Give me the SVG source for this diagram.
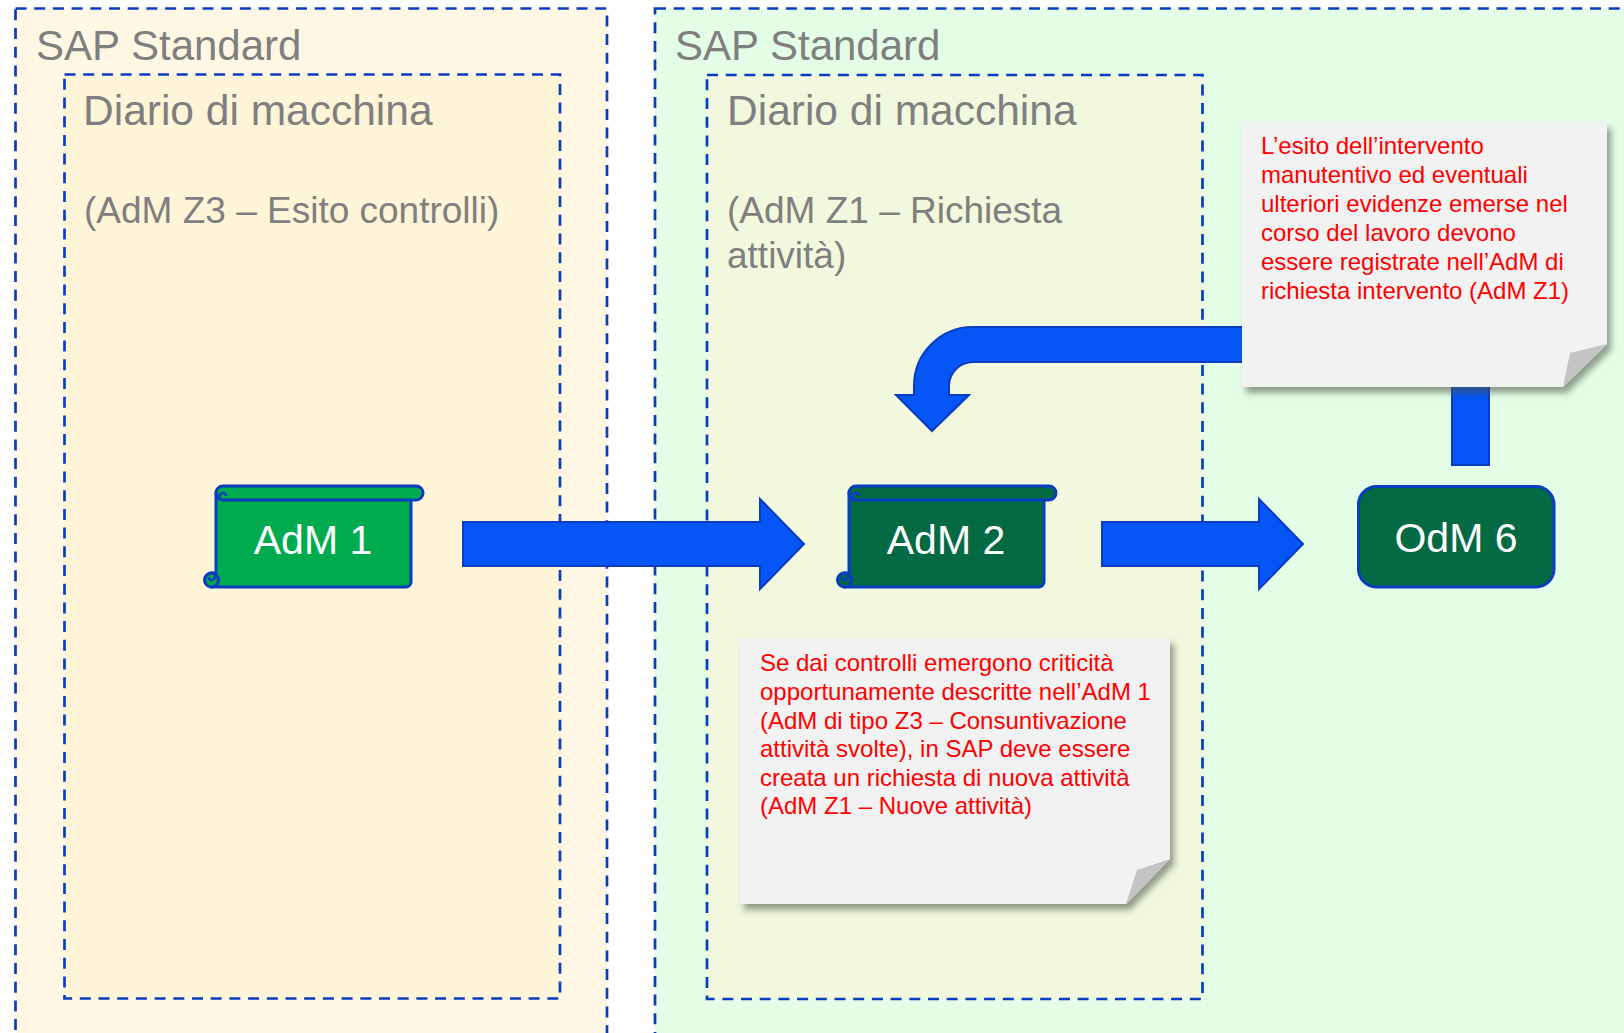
<svg xmlns="http://www.w3.org/2000/svg" width="1624" height="1033" viewBox="0 0 1624 1033">
<style>
.cont{stroke:#0a3cbf;stroke-width:2.7;stroke-dasharray:11 7.7}
.h1{font-family:"Liberation Sans",Arial,sans-serif;font-size:42px;fill:#7f7f7f}
.h1b{font-family:"Liberation Sans",Arial,sans-serif;font-size:42.5px;fill:#7f7f7f}
.h2{font-family:"Liberation Sans",Arial,sans-serif;font-size:37px;fill:#7f7f7f}
.arrow{fill:#0555f7;stroke:#0a3cbf;stroke-width:2}
.node{stroke:#0a3cbf;stroke-width:3}
.lbl{font-family:"Liberation Sans",Arial,sans-serif;font-size:41px;fill:#ffffff;text-anchor:middle}
.note{fill:#f2f2f2}
.fold{fill:#c4c4c4}
.nt{font-family:"Liberation Sans",Arial,sans-serif;font-size:24px;fill:#ff0000}
</style>
<defs>
<filter id="sh" x="-10%" y="-10%" width="125%" height="130%">
<feDropShadow dx="4" dy="6" stdDeviation="3" flood-color="#4a5040" flood-opacity="0.55"/>
</filter>
</defs>
<rect width="1624" height="1033" fill="#ffffff"/>
<g id="container-left">
<rect class="cont" x="15.5" y="8.5" width="591.5" height="1060" fill="#fff7e3"/>
<text class="h1" x="36" y="60">SAP Standard</text>
<rect class="cont" x="64.5" y="74.5" width="495.5" height="924" fill="#fef4d8"/>
<text class="h1b" x="83" y="125">Diario di macchina</text>
<text class="h2" x="84" y="223">(AdM Z3 – Esito controlli)</text>
</g>
<g id="container-right">
<rect class="cont" x="655" y="8.5" width="1000" height="1060" fill="#e3fde7"/>
<text class="h1" x="675" y="60">SAP Standard</text>
<rect class="cont" x="707" y="75" width="495.5" height="924" fill="#f1f8dd"/>
<text class="h1b" x="727" y="125">Diario di macchina</text>
<text class="h2" x="727" y="223">(AdM Z1 – Richiesta</text>
<text class="h2" x="727" y="268">attività)</text>
</g>
<g id="connectors">
<polygon class="arrow" points="463,522 760,522 760,499 804,544 760,589 760,566 463,566"/>
<polygon class="arrow" points="1102,522 1259,522 1259,499 1303,544 1259,589 1259,566 1102,566"/>
<path class="arrow" d="M1250 327 L973 327 A59 59 0 0 0 914 386 L914 395 L896 395 L932 431 L969 395 L949 395 L949 386 A24 24 0 0 1 973 362 L1250 362 Z"/>
<rect class="arrow" x="1452" y="370" width="37" height="95"/>
</g>
<g id="adm1" transform="translate(216,486)">
<path class="node" fill="#00ab4e" d="M0 7 L195 7 L195 96 A5 5 0 0 1 190 101 L-4.5 101 L-4.5 87 L0 87 Z"/>
<path class="node" fill="#00ab4e" d="M7 0 L200 0 A7 7 0 0 1 200 14 L7 14 A7 7 0 0 1 7 0 Z"/>
<path fill="none" stroke="#0a3cbf" stroke-width="2.5" d="M7 14 A3.5 3.5 0 0 1 7 7 A3 3 0 0 1 10 10"/>
<circle class="node" fill="#00ab4e" cx="-4.5" cy="94" r="7"/>
<path fill="none" stroke="#0a3cbf" stroke-width="2.5" d="M-4.5 87 A3.5 3.5 0 0 1 -4.5 94 A3 3 0 0 1 -7.5 91"/>
<text class="lbl" x="97" y="68">AdM 1</text>
</g>
<g id="adm2" transform="translate(849,486)">
<path class="node" fill="#046a43" d="M0 7 L195 7 L195 96 A5 5 0 0 1 190 101 L-4.5 101 L-4.5 87 L0 87 Z"/>
<path class="node" fill="#046a43" d="M7 0 L200 0 A7 7 0 0 1 200 14 L7 14 A7 7 0 0 1 7 0 Z"/>
<path fill="none" stroke="#0a3cbf" stroke-width="2.5" d="M7 14 A3.5 3.5 0 0 1 7 7 A3 3 0 0 1 10 10"/>
<circle class="node" fill="#046a43" cx="-4.5" cy="94" r="7"/>
<path fill="none" stroke="#0a3cbf" stroke-width="2.5" d="M-4.5 87 A3.5 3.5 0 0 1 -4.5 94 A3 3 0 0 1 -7.5 91"/>
<text class="lbl" x="97" y="68">AdM 2</text>
</g>
<g id="odm6">
<rect class="node" x="1358.5" y="486.5" width="195.5" height="100.5" rx="18" fill="#046a43"/>
<text class="lbl" x="1456" y="552" font-size="42">OdM 6</text>
</g>
<g id="note1">
<path class="note" filter="url(#sh)" d="M1242 122 L1607 122 L1607 344 L1563 387 L1242 387 Z"/>
<path class="fold" d="M1563 387 L1570 353 L1607 344 Z"/>
<text class="nt" x="1261"><tspan x="1261" y="154">L’esito dell’intervento</tspan><tspan x="1261" y="183">manutentivo ed eventuali</tspan><tspan x="1261" y="212">ulteriori evidenze emerse nel</tspan><tspan x="1261" y="241">corso del lavoro devono</tspan><tspan x="1261" y="270">essere registrate nell’AdM di</tspan><tspan x="1261" y="299">richiesta intervento (AdM Z1)</tspan></text>
</g>
<g id="note2">
<path class="note" filter="url(#sh)" d="M740 638 L1170 638 L1170 859 L1126 904 L740 904 Z"/>
<path class="fold" d="M1126 904 L1137 870 L1170 859 Z"/>
<text class="nt" x="760"><tspan x="760" y="671">Se dai controlli emergono criticità</tspan><tspan x="760" y="700">opportunamente descritte nell’AdM 1</tspan><tspan x="760" y="728.5">(AdM di tipo Z3 – Consuntivazione</tspan><tspan x="760" y="757">attività svolte), in SAP deve essere</tspan><tspan x="760" y="786">creata un richiesta di nuova attività</tspan><tspan x="760" y="814">(AdM Z1 – Nuove attività)</tspan></text>
</g>
</svg>
